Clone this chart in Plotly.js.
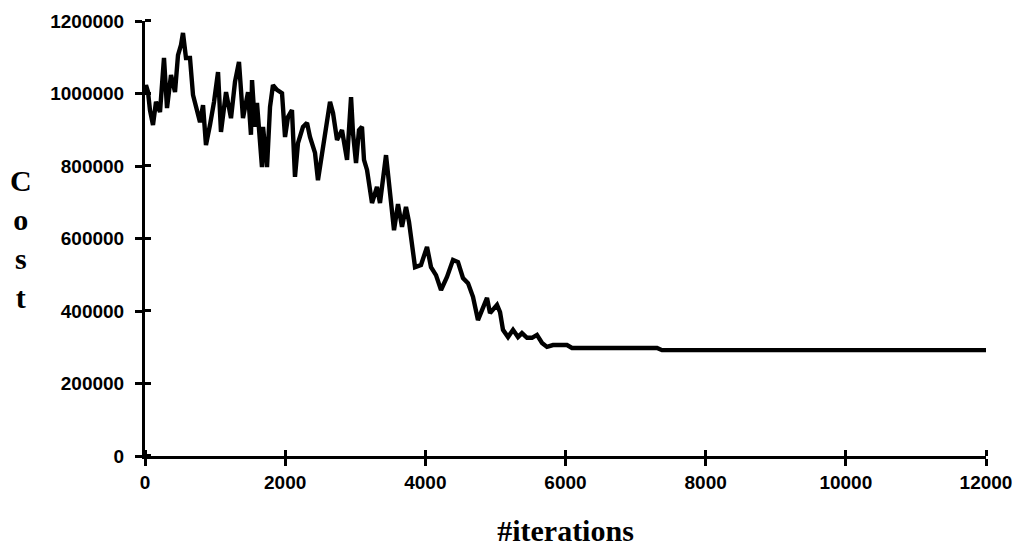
<!DOCTYPE html>
<html>
<head>
<meta charset="utf-8">
<script src="https://cdn.plot.ly/plotly-3.0.1.min.js"></script>
<style>html,body{margin:0;padding:0;background:#fff;}#chart{width:1022px;height:551px;}</style>
</head>
<body>
<div id="chart"></div>
<script>
// Data
const iterations = [0,14,43,71,114,157,214,271,314,371,428,471,514,542,585,642,685,728,785,828,870,927,985,1042,1084,1156,1227,1284,1341,1398,1470,1512,1527,1570,1598,1669,1684,1741,1784,1826,1883,1955,1998,2040,2097,2140,2183,2254,2312,2354,2426,2468,2526,2568,2640,2683,2740,2811,2883,2940,2968,3011,3053,3096,3125,3168,3239,3310,3353,3439,3510,3553,3610,3667,3724,3767,3853,3938,4024,4081,4152,4224,4309,4395,4466,4537,4609,4680,4751,4809,4880,4923,4966,5023,5066,5108,5180,5251,5322,5379,5451,5522,5593,5665,5736,5822,6021,6093,7306,7377,12000];
const cost = [996000,1023000,1004000,954000,913000,977000,949000,1098000,960000,1051000,1004000,1106000,1134000,1167000,1098000,1098000,996000,968000,921000,968000,858000,913000,977000,1059000,894000,1004000,932000,1032000,1087000,932000,1004000,886000,1037000,908000,974000,797000,908000,797000,963000,1023000,1010000,1001000,880000,935000,954000,770000,863000,908000,919000,880000,836000,761000,836000,891000,977000,946000,872000,899000,817000,990000,891000,808000,899000,908000,817000,789000,698000,742000,698000,830000,706000,623000,695000,632000,687000,646000,521000,527000,577000,521000,499000,458000,494000,541000,535000,491000,477000,439000,375000,403000,436000,394000,403000,417000,397000,348000,328000,348000,328000,339000,326000,326000,334000,312000,301000,306000,306000,298000,298000,292000,292000];

const xTicks = [0,2000,4000,6000,8000,10000,12000];
const yTicks = [0,200000,400000,600000,800000,1000000,1200000];
const xTitle = "#iterations";
const yTitle = "C<br>o<br>s<br>t";

const tickFont = {family: "Liberation Sans, Arial, sans-serif", size: 19, color: "#000", weight: "bold"};
const titleFont = {family: "Liberation Serif, Times New Roman, serif", size: 30, color: "#000", weight: "bold"};

const trace = {
  x: iterations, y: cost, type: "scatter", mode: "lines",
  line: {color: "#000", width: 4.4}, hoverinfo: "skip"
};

const layout = {
  width: 1022, height: 551,
  margin: {l: 145, r: 36, t: 21, b: 95},
  paper_bgcolor: "#fff", plot_bgcolor: "#fff",
  showlegend: false,
  xaxis: {
    range: [0, 12000], tickvals: xTicks, ticktext: xTicks.map(String),
    showgrid: false, zeroline: false,
    showline: true, linecolor: "#000", linewidth: 3,
    ticks: "outside", ticklen: 7, tickwidth: 3, tickcolor: "#000",
    // inner half of the crossing ticks (offset imperceptibly so they are not merged with majors)
    minor: {tickmode: "array", tickvals: xTicks.map(v => v + 1), ticks: "inside",
            ticklen: 6, tickwidth: 3, tickcolor: "#000", showgrid: false},
    tickfont: tickFont,
    title: {text: xTitle, font: titleFont, standoff: 29}
  },
  yaxis: {
    range: [0, 1200000], tickvals: yTicks, ticktext: yTicks.map(String),
    showgrid: false, zeroline: false,
    showline: true, linecolor: "#000", linewidth: 3,
    ticks: "outside", ticklen: 7, tickwidth: 3, tickcolor: "#000",
    minor: {tickmode: "array", tickvals: yTicks.map(v => v + 100), ticks: "inside",
            ticklen: 6, tickwidth: 3, tickcolor: "#000", showgrid: false},
    tickfont: tickFont, ticklabelstandoff: 7
  },
  annotations: [{
    text: yTitle, xref: "paper", yref: "paper",
    x: -0.1474, y: 0.50, xanchor: "center", yanchor: "middle",
    showarrow: false, font: titleFont, align: "center"
  }]
};

Plotly.newPlot("chart", [trace], layout, {displayModeBar: false, staticPlot: true});
</script>
</body>
</html>
